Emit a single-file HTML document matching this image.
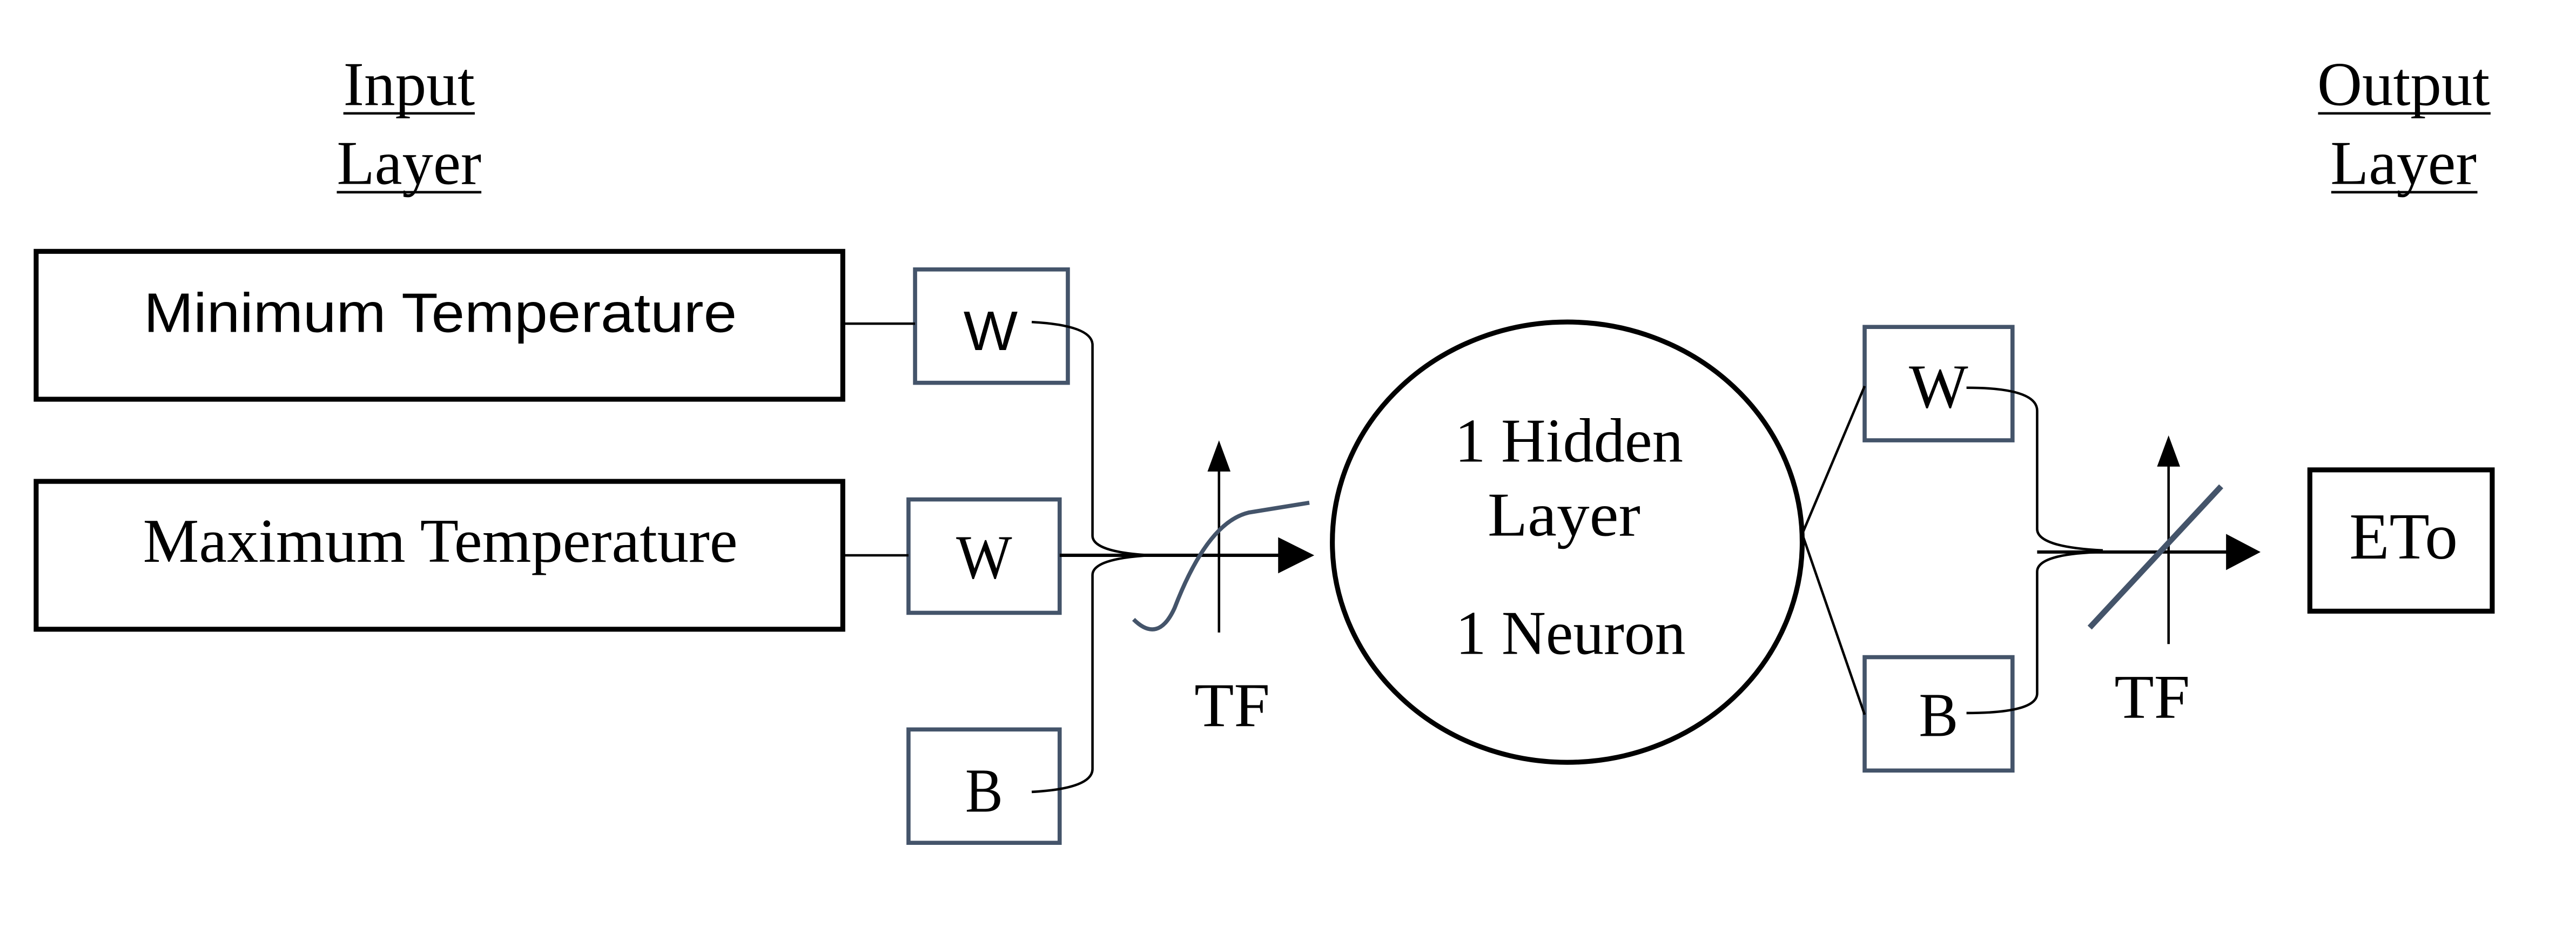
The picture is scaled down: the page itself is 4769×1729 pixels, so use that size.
<!DOCTYPE html>
<html><head><meta charset="utf-8"><style>html,body{margin:0;padding:0;background:#fff}svg{display:block}</style></head>
<body>
<svg width="4769" height="1729" viewBox="0 0 1568 568.5" preserveAspectRatio="none" xmlns="http://www.w3.org/2000/svg">
<rect width="1568" height="568.5" fill="#fff"/>
<g font-family="Liberation Serif, serif" fill="#000" font-size="38">
<text x="249" y="64" text-anchor="middle" textLength="80" lengthAdjust="spacingAndGlyphs">Input</text>
<text x="249" y="112" text-anchor="middle" textLength="88" lengthAdjust="spacingAndGlyphs">Layer</text>
<text x="1463" y="64" text-anchor="middle" textLength="105" lengthAdjust="spacingAndGlyphs">Output</text>
<text x="1463" y="112" text-anchor="middle" textLength="89" lengthAdjust="spacingAndGlyphs">Layer</text>
</g>
<g stroke="#000" stroke-width="1.5">
<line x1="209" y1="69" x2="289" y2="69"/>
<line x1="205" y1="117" x2="293" y2="117"/>
<line x1="1411" y1="69" x2="1516" y2="69"/>
<line x1="1419" y1="117" x2="1508" y2="117"/>
</g>
<g fill="none" stroke="#000" stroke-width="3">
<rect x="22" y="153" width="491" height="90"/>
<rect x="22" y="293" width="491" height="90"/>
<rect x="1406" y="286" width="111" height="86"/>
<ellipse cx="954" cy="330" rx="143" ry="134"/>
</g>
<g fill="none" stroke="#44546a" stroke-width="2.5">
<rect x="557" y="164" width="93" height="69"/>
<rect x="553" y="304" width="92" height="69"/>
<rect x="553" y="444" width="92" height="69"/>
<rect x="1135" y="199" width="90" height="69"/>
<rect x="1135" y="400" width="90" height="69"/>
</g>
<g fill="none" stroke="#000" stroke-width="1.5">
<line x1="513" y1="197" x2="557" y2="197"/>
<line x1="513" y1="338" x2="553" y2="338"/>
<path d="M628 196 Q665 198 665 210 L665 326 Q665 336 700 338"/>
<path d="M628 482 Q665 480 665 468 L665 350 Q665 340 700 338"/>
<line x1="645" y1="338" x2="785" y2="338" stroke-width="2"/>
<line x1="742" y1="385" x2="742" y2="285"/>
<line x1="1097" y1="325" x2="1135" y2="235"/>
<line x1="1097" y1="325" x2="1135" y2="435"/>
<path d="M1197 236 Q1240 236 1240 250 L1240 322 Q1240 333 1280 335"/>
<path d="M1197 434 Q1240 434 1240 422 L1240 348 Q1240 337 1280 336"/>
<line x1="1240" y1="336" x2="1360" y2="336" stroke-width="2"/>
<line x1="1320" y1="392" x2="1320" y2="282"/>
</g>
<g fill="#000">
<polygon points="778,327 800,338 778,349"/>
<polygon points="735,287 742,268 749,287"/>
<polygon points="1355,325 1376,336 1355,347"/>
<polygon points="1313,284 1320,265 1327,284"/>
</g>
<path d="M690 377 Q705 392 715 370 Q735 318 760 312 L797 306" fill="none" stroke="#44546a" stroke-width="2.5"/>
<line x1="1272" y1="382" x2="1352" y2="296" stroke="#44546a" stroke-width="3.5"/>
<g font-family="Liberation Sans, sans-serif" fill="#000">
<text x="268" y="202" font-size="34" text-anchor="middle" textLength="361" lengthAdjust="spacingAndGlyphs">Minimum Temperature</text>
<text x="603" y="213" font-size="34" text-anchor="middle" textLength="33" lengthAdjust="spacingAndGlyphs">W</text>
</g>
<g font-family="Liberation Serif, serif" fill="#000" font-size="38">
<text x="268" y="342" text-anchor="middle" textLength="362" lengthAdjust="spacingAndGlyphs">Maximum Temperature</text>
<text x="599" y="352" text-anchor="middle" textLength="34" lengthAdjust="spacingAndGlyphs">W</text>
<text x="599" y="494" text-anchor="middle" textLength="23" lengthAdjust="spacingAndGlyphs">B</text>
<text x="750" y="442" text-anchor="middle" textLength="46" lengthAdjust="spacingAndGlyphs">TF</text>
<text x="955" y="281" text-anchor="middle" textLength="139" lengthAdjust="spacingAndGlyphs">1 Hidden</text>
<text x="952" y="326" text-anchor="middle" textLength="93" lengthAdjust="spacingAndGlyphs">Layer</text>
<text x="956" y="398" text-anchor="middle" textLength="140" lengthAdjust="spacingAndGlyphs">1 Neuron</text>
<text x="1180" y="248" text-anchor="middle" textLength="36" lengthAdjust="spacingAndGlyphs">W</text>
<text x="1180" y="448" text-anchor="middle" textLength="24" lengthAdjust="spacingAndGlyphs">B</text>
<text x="1310" y="437" text-anchor="middle" textLength="46" lengthAdjust="spacingAndGlyphs">TF</text>
<text x="1463" y="340" font-size="40" text-anchor="middle" textLength="66" lengthAdjust="spacingAndGlyphs">ETo</text>
</g>
</svg>
</body></html>
